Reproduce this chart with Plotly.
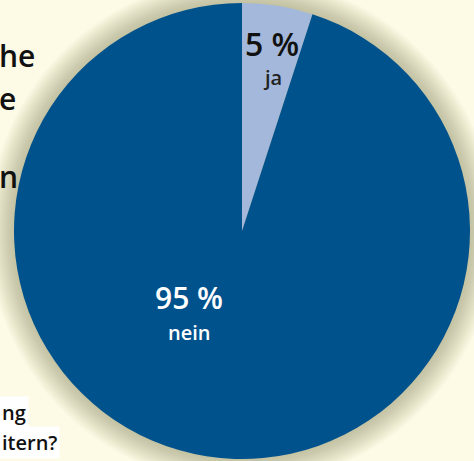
import plotly.graph_objects as go

W, H = 474, 461

labels = ["ja", "nein"]
values = [5, 95]
colors = ["#A3B8DA", "#00528D"]
pct_text = ["5 %", "95 %"]

BG = "#FDFBE6"
FONT = "Open Sans"

# pie geometry in pixels
cx, cy, R = 242, 231, 228

fig = go.Figure()
fig.add_trace(go.Pie(
    labels=labels, values=values, sort=False, direction="clockwise", rotation=0,
    marker=dict(colors=colors, line=dict(width=0)),
    textinfo="none", hoverinfo="label+percent", showlegend=False,
    domain=dict(x=[(cx - R) / W, (cx + R) / W], y=[(H - cy - R) / H, (H - cy + R) / H]),
))

shapes = []
# soft shadow around the pie
for k in range(1, 21):
    r = R + k * 1.3
    shapes.append(dict(type="circle", xref="paper", yref="paper", layer="below",
                       x0=(cx - r) / W, x1=(cx + r) / W,
                       y0=(H - cy - r) / H, y1=(H - cy + r) / H,
                       fillcolor="#5a5535", opacity=0.018, line=dict(width=0)))

def px(x):
    return x / W

def py(y):
    return 1 - y / H

def f(size, color):
    return dict(family=FONT, size=size, color=color, weight=600)

ann = []
# slice labels
ann.append(dict(x=px(272), y=py(44), text=pct_text[0], showarrow=False,
                font=f(32, "#111111"), xanchor="center", yanchor="middle"))
ann.append(dict(x=px(272), y=py(77), text=labels[0], showarrow=False,
                font=f(20, "#222222"), xanchor="center", yanchor="middle"))
ann.append(dict(x=px(189), y=py(297), text=pct_text[1], showarrow=False,
                font=f(30, "#FFFFFF"), xanchor="center", yanchor="middle"))
ann.append(dict(x=px(189), y=py(332), text=labels[1], showarrow=False,
                font=f(20, "#FFFFFF"), xanchor="center", yanchor="middle"))

# fragments of the surrounding text visible beside the pie
for t, x, y in [("he", -3, 56), ("e", -3, 98), ("n", -3, 176)]:
    ann.append(dict(x=px(x), y=py(y), text=t, showarrow=False,
                    font=f(30, "#111111"), xanchor="left", yanchor="middle"))
for t, y in [("ng", 412), ("itern?", 442)]:
    ann.append(dict(x=px(-1), y=py(y), text=t, showarrow=False, bgcolor="#FFFFFF",
                    borderpad=2,
                    font=f(20, "#111111"), xanchor="left", yanchor="middle"))

fig.update_layout(width=W, height=H, margin=dict(l=0, r=0, t=0, b=0),
                  paper_bgcolor=BG, plot_bgcolor=BG, shapes=shapes, annotations=ann)
fig.write_html("out.html")
